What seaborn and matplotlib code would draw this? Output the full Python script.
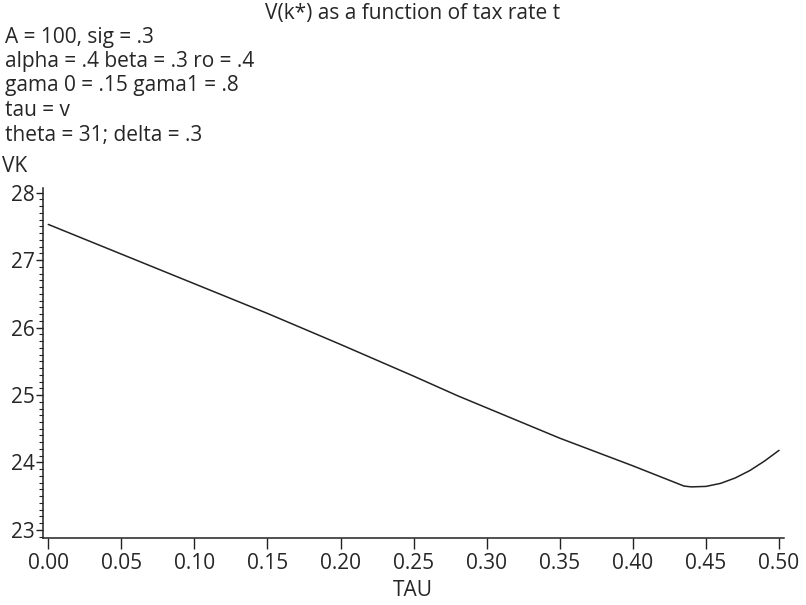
import numpy as np
import pandas as pd
import matplotlib
matplotlib.use("Agg")
import matplotlib.pyplot as plt
import seaborn as sns
from matplotlib.ticker import MultipleLocator

# Values
tau = [0.00, 0.05, 0.10, 0.15, 0.20, 0.25, 0.28, 0.30, 0.35, 0.40,
       0.435, 0.44, 0.45, 0.46, 0.47, 0.48, 0.49, 0.50]
vk = [27.53, 27.09, 26.65, 26.21, 25.75, 25.28, 24.99, 24.81, 24.36, 23.95,
      23.65, 23.638, 23.645, 23.69, 23.77, 23.88, 24.02, 24.18]

x_ticks = [0.00, 0.05, 0.10, 0.15, 0.20, 0.25, 0.30, 0.35, 0.40, 0.45, 0.50]
y_ticks = [23, 24, 25, 26, 27, 28]

title = "V(k*) as a function of tax rate t"
notes = ["A = 100, sig = .3",
         "alpha = .4 beta = .3 ro = .4",
         "gama 0 = .15 gama1 = .8",
         "tau = v",
         "theta = 31; delta = .3"]

df = pd.DataFrame({"TAU": tau, "VK": vk})

sns.set_style("ticks")
plt.rcParams["font.family"] = ["Open Sans", "DejaVu Sans"]
fs = 15

W, H = 806, 605
fig = plt.figure(figsize=(W / 100, H / 100), dpi=100)
ax = fig.add_axes([43 / W, 1 - 538 / H, (784 - 43) / W, (538 - 188) / H])

sns.lineplot(data=df, x="TAU", y="VK", ax=ax, color="#222222", linewidth=1.1)

ax.set_xlim(-0.0036, 0.5034)
ax.set_ylim(22.88, 28.07)
ax.set_xticks(x_ticks)
ax.set_xticklabels([f"{v:.2f}" for v in x_ticks])
ax.set_yticks(y_ticks)
ax.yaxis.set_minor_locator(MultipleLocator(0.1))
ax.tick_params(axis="x", length=8, width=1, labelsize=fs, pad=3, color="#222222")
ax.tick_params(axis="y", which="major", length=5, width=1, labelsize=fs, pad=1, color="#222222")
ax.tick_params(axis="y", which="minor", length=3, width=0.8, color="#222222")
for s in ["top", "right"]:
    ax.spines[s].set_visible(False)
for s in ["left", "bottom"]:
    ax.spines[s].set_linewidth(1.1)
    ax.spines[s].set_color("#222222")

ax.set_xlabel("")
ax.set_ylabel("")

fig.text(413 / W, 1 - 14 / H, title, ha="center", va="center", fontsize=fs)
for i, line in enumerate(notes):
    fig.text(5 / W, 1 - (37 + i * 24.5) / H, line, ha="left", va="center", fontsize=fs)
fig.text(2 / W, 1 - 167 / H, "VK", ha="left", va="center", fontsize=fs)
fig.text(413 / W, 1 - 591 / H, "TAU", ha="center", va="center", fontsize=fs)

fig.savefig("out.png", dpi=100)
